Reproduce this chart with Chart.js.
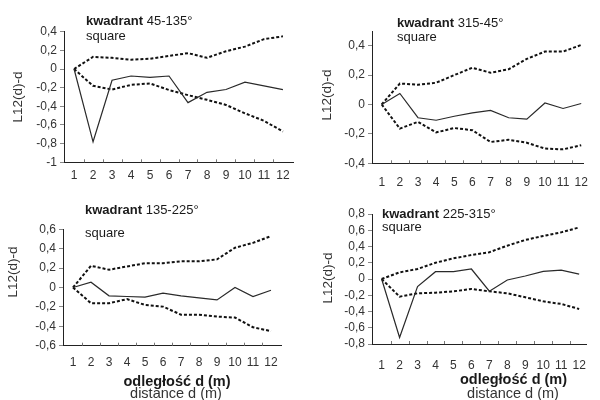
<!DOCTYPE html>
<html>
<head>
<meta charset="utf-8">
<script src="https://cdn.jsdelivr.net/npm/chart.js@4.4.0/dist/chart.umd.min.js"></script>
<style>
  html, body { margin: 0; padding: 0; background: #fff; }
  #wrap { position: relative; width: 600px; height: 400px; }
  #wrap canvas { position: absolute; }
</style>
</head>
<body>
<div id="wrap">
  <canvas id="c1" width="300" height="200" style="left:0;top:0"></canvas>
  <canvas id="c2" width="300" height="200" style="left:300px;top:0"></canvas>
  <canvas id="c3" width="300" height="200" style="left:0;top:200px"></canvas>
  <canvas id="c4" width="300" height="200" style="left:300px;top:200px"></canvas>
</div>
<script>
// distance classes d (m)
const distances = [1, 2, 3, 4, 5, 6, 7, 8, 9, 10, 11, 12];

// quadrant 45-135°
const observed45 = [0, -0.78, -0.12, -0.075, -0.09, -0.075, -0.36, -0.25, -0.22, -0.14, -0.18, -0.22];
const upper45    = [0, 0.13, 0.12, 0.10, 0.11, 0.14, 0.17, 0.12, 0.19, 0.24, 0.32, 0.35];
const lower45    = [0, -0.18, -0.22, -0.17, -0.155, -0.225, -0.28, -0.33, -0.385, -0.475, -0.555, -0.67];
const yTicks45   = [-1, -0.8, -0.6, -0.4, -0.2, 0, 0.2, 0.4];

// quadrant 315-45°
const observed315 = [0, 0.075, -0.09, -0.107, -0.08, -0.057, -0.04, -0.09, -0.1, 0.01, -0.027, 0.007];
const upper315    = [0, 0.143, 0.134, 0.148, 0.2, 0.25, 0.216, 0.24, 0.31, 0.36, 0.36, 0.405];
const lower315    = [0, -0.164, -0.118, -0.19, -0.16, -0.175, -0.255, -0.24, -0.26, -0.3, -0.305, -0.277];
const yTicks315   = [-0.4, -0.2, 0, 0.2, 0.4];

// quadrant 135-225°
const observed135 = [0, 0.055, -0.086, -0.093, -0.1, -0.059, -0.086, -0.107, -0.128, 0, -0.093, -0.028];
const upper135    = [0, 0.224, 0.183, 0.217, 0.25, 0.25, 0.27, 0.27, 0.29, 0.41, 0.46, 0.53];
const lower135    = [0, -0.162, -0.162, -0.12, -0.18, -0.197, -0.28, -0.28, -0.3, -0.31, -0.41, -0.45];
const yTicks135   = [-0.6, -0.4, -0.2, 0, 0.2, 0.4, 0.6];

// quadrant 225-315°
const observed225 = [0, -0.72, -0.094, 0.09, 0.09, 0.123, -0.15, -0.012, 0.037, 0.094, 0.11, 0.06];
const upper225    = [0, 0.082, 0.123, 0.2, 0.254, 0.295, 0.33, 0.41, 0.48, 0.53, 0.574, 0.635];
const lower225    = [0, -0.217, -0.176, -0.168, -0.152, -0.123, -0.152, -0.176, -0.225, -0.275, -0.307, -0.369];
const yTicks225   = [-0.8, -0.6, -0.4, -0.2, 0, 0.2, 0.4, 0.6, 0.8];

const FONT = '"Liberation Sans", Arial, Helvetica, sans-serif';
Chart.defaults.font.family = FONT;
Chart.defaults.color = '#333';

const panels = [
  { id: 'c1', angle: '45-135°', obs: observed45, up: upper45, lo: lower45, yTicks: yTicks45,
    yMin: -1, yMax: 0.4, xMin: 0.47, xMax: 12.53,
    pad: { left: 0, top: 31.7, right: 7, bottom: 0 }, yw: 64, xh: 37.7, tickPad: 6,
    head: [86, 21], sub: [86, 36], yTitle: [18, 97], xTitle: null },
  { id: 'c2', angle: '315-45°', obs: observed315, up: upper315, lo: lower315, yTicks: yTicks315,
    yMin: -0.4, yMax: 0.5, xMin: 0.464, xMax: 12.1,
    pad: { left: 0, top: 31, right: 12, bottom: 0 }, yw: 72, xh: 36.7, tickPad: 12,
    head: [97, 23], sub: [97, 37], yTitle: [27, 95], xTitle: null },
  { id: 'c3', angle: '135-225°', obs: observed135, up: upper135, lo: lower135, yTicks: yTicks135,
    yMin: -0.6, yMax: 0.6, xMin: 0.444, xMax: 12.556,
    pad: { left: 0, top: 29.3, right: 19, bottom: 0 }, yw: 63, xh: 54.3, tickPad: 10,
    head: [85, 10], sub: [85, 33], yTitle: [13, 72], xTitle: [177, 182], xSub: [176, 193.5] },
  { id: 'c4', angle: '225-315°', obs: observed225, up: upper225, lo: lower225, yTicks: yTicks225,
    yMin: -0.8, yMax: 0.8, xMin: 0.464, xMax: 12.43,
    pad: { left: 0, top: 14, right: 5, bottom: 0 }, yw: 72, xh: 56, tickPad: 14,
    head: [82, 14], sub: [82, 27.5], yTitle: [28, 78], xTitle: [213.5, 180], xSub: [213, 193.5] }
];

const fmt = v => String(Math.round(v * 10) / 10).replace('.', ',');

// small tick marks on the inner side of the x axis, between distance classes
const innerTicks = {
  id: 'innerTicks',
  afterDraw(chart) {
    const { ctx, chartArea, scales } = chart;
    ctx.save();
    ctx.strokeStyle = '#777';
    ctx.lineWidth = 1;
    for (let i = 0; i < distances.length - 1; i++) {
      const x = Math.round(scales.x.getPixelForValue((distances[i] + distances[i + 1]) / 2)) + 0.5;
      ctx.beginPath();
      ctx.moveTo(x, chartArea.bottom);
      ctx.lineTo(x, chartArea.bottom - 3);
      ctx.stroke();
    }
    ctx.restore();
  }
};

// quadrant heading, axis titles
const panelText = {
  id: 'panelText',
  afterDraw(chart, args, opts) {
    const p = opts.panel;
    const ctx = chart.ctx;
    ctx.save();
    ctx.fillStyle = '#1a1a1a';
    ctx.textBaseline = 'middle';
    ctx.textAlign = 'left';
    ctx.font = 'bold 13px ' + FONT;
    const word = 'kwadrant ';
    ctx.fillText(word, p.head[0], p.head[1]);
    const w = ctx.measureText(word).width;
    ctx.font = '13px ' + FONT;
    ctx.fillText(p.angle, p.head[0] + w, p.head[1]);
    ctx.fillText('square', p.sub[0], p.sub[1]);

    ctx.fillStyle = '#333';
    ctx.font = '13.5px ' + FONT;
    ctx.save();
    ctx.translate(p.yTitle[0], p.yTitle[1]);
    ctx.rotate(-Math.PI / 2);
    ctx.textAlign = 'center';
    ctx.fillText('L12(d)-d', 0, 0);
    ctx.restore();

    if (p.xTitle) {
      ctx.textAlign = 'center';
      ctx.fillStyle = '#1a1a1a';
      ctx.font = 'bold 14.5px ' + FONT;
      ctx.fillText('odległość d (m)', p.xTitle[0], p.xTitle[1]);
      ctx.fillStyle = '#333';
      ctx.font = '14.5px ' + FONT;
      ctx.fillText('distance d (m)', p.xSub[0], p.xSub[1]);
    }
    ctx.restore();
  }
};

panels.forEach(p => {
  const toPts = vals => distances.map((d, i) => ({ x: d, y: vals[i] }));
  new Chart(document.getElementById(p.id), {
    type: 'line',
    data: {
      datasets: [
        { label: 'L12(d)-d', data: toPts(p.obs), borderColor: '#2a2a2a', borderWidth: 1.2 },
        { label: 'upper', data: toPts(p.up), borderColor: '#111', borderWidth: 2, borderDash: [3, 2] },
        { label: 'lower', data: toPts(p.lo), borderColor: '#111', borderWidth: 2, borderDash: [3, 2] }
      ]
    },
    options: {
      responsive: false,
      animation: false,
      devicePixelRatio: 1,
      layout: { padding: p.pad },
      elements: { point: { radius: 0 }, line: { tension: 0, fill: false } },
      plugins: {
        legend: { display: false },
        tooltip: { enabled: false },
        panelText: { panel: p }
      },
      scales: {
        x: {
          type: 'linear',
          min: p.xMin,
          max: p.xMax,
          afterBuildTicks: s => { s.ticks = distances.map(v => ({ value: v })); },
          afterFit: s => { s.height = p.xh; },
          grid: { display: false, drawTicks: false, tickLength: 0 },
          border: { display: true, color: '#222', width: 1 },
          ticks: { padding: p.tickPad, maxRotation: 0, autoSkip: false, font: { size: 12 }, color: '#333',
                   callback: v => String(v) }
        },
        y: {
          min: p.yMin,
          max: p.yMax,
          afterBuildTicks: s => { s.ticks = p.yTicks.map(v => ({ value: v })); },
          afterFit: s => { s.width = p.yw; },
          grid: { display: true, drawOnChartArea: false, drawTicks: true, tickLength: 4, color: '#888' },
          border: { display: true, color: '#222', width: 1 },
          ticks: { padding: 3, autoSkip: false, font: { size: 12 }, color: '#333', callback: v => fmt(v) }
        }
      }
    },
    plugins: [innerTicks, panelText]
  });
});
</script>
</body>
</html>
